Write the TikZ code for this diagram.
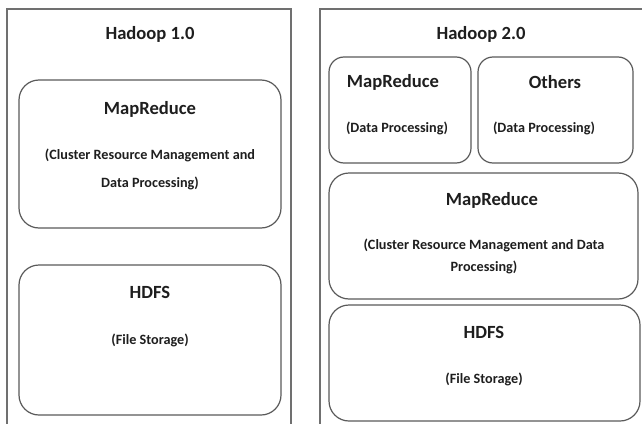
\documentclass[tikz,border=0pt]{standalone}
\usepackage{fontspec}
\setmainfont{Carlito}
\usetikzlibrary{positioning}
\definecolor{framegray}{HTML}{707070}
\definecolor{boxgray}{HTML}{5A5A5A}
\definecolor{inkgray}{HTML}{1E1E1E}
\tikzset{
  outer_frame/.style={draw=framegray, line width=1.4pt},
  layer_box/.style={draw=boxgray, line width=1.2pt, rounded corners=20pt},
  small_box/.style={draw=boxgray, line width=1.2pt, rounded corners=15pt},
  head_text/.style={text=inkgray, inner sep=0pt, font=\fontsize{18.6}{22}\selectfont\bfseries},
  sub_text/.style={text=inkgray, inner sep=0pt, align=center, font=\fontsize{14.2}{22}\selectfont\bfseries}
}

\begin{document}
\begin{tikzpicture}[x=1pt,y=-1pt]
  \clip (0,0) rectangle (642,423);
  \fill[white] (0,0) rectangle (642,423);
  % outer frames
  \draw[outer_frame] (7,440) -- (7,9) -- (291,9) -- (291,440);
  \draw[outer_frame] (320,440) -- (320,9) -- (650,9);
  % Hadoop 1.0
  \draw[layer_box] (19,80) rectangle (281,228);
  \draw[layer_box] (19,265) rectangle (281,415);
  \node[head_text] (hadoop_one) at (150,34) {Hadoop 1.0};
  \node[head_text] (mr_one) at (150,109) {MapReduce};
  \node[sub_text] (mr_one_sub) at (150,169) {(Cluster Resource Management and\\[6pt] Data Processing)};
  \node[head_text] (hdfs_one) at (150,292) {HDFS};
  \node[sub_text] (hdfs_one_sub) at (150,340) {(File Storage)};
  % Hadoop 2.0
  \draw[small_box] (329,57) rectangle (471,163);
  \draw[small_box] (478,57) rectangle (633,163);
  \draw[layer_box] (329,173) rectangle (638,299);
  \draw[layer_box] (329,305) rectangle (640,421);
  \node[head_text] (hadoop_two) at (481,34) {Hadoop 2.0};
  \node[head_text] (mr_two) at (393,82) {MapReduce};
  \node[sub_text] (mr_two_sub) at (397,128) {(Data Processing)};
  \node[head_text] (others) at (555,82) {Others};
  \node[sub_text] (others_sub) at (544,128) {(Data Processing)};
  \node[head_text] (mr_yarn) at (492,200) {MapReduce};
  \node[sub_text] (mr_yarn_sub) at (484,256) {(Cluster Resource Management and Data\\ Processing)};
  \node[head_text] (hdfs_two) at (484,332) {HDFS};
  \node[sub_text] (hdfs_two_sub) at (484,379) {(File Storage)};
\end{tikzpicture}
\end{document}
